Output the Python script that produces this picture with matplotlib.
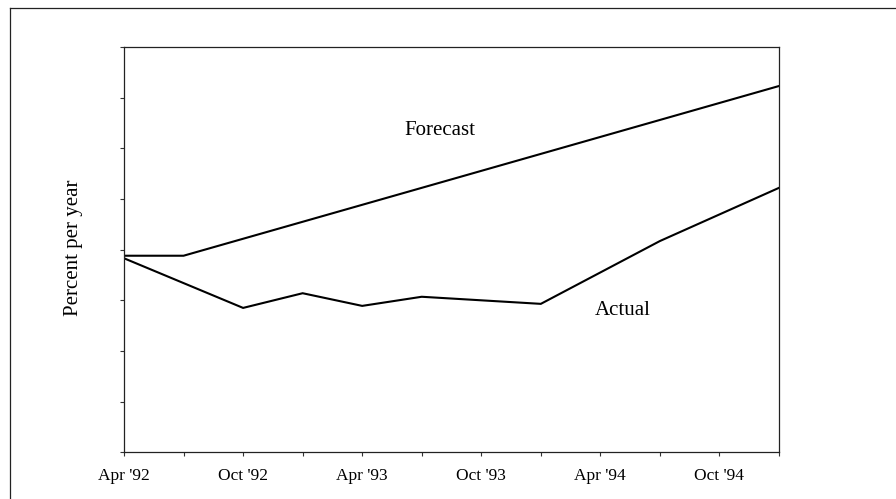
import matplotlib
matplotlib.use("Agg")
import matplotlib.pyplot as plt
from matplotlib.lines import Line2D
from matplotlib.ticker import FixedLocator, NullFormatter

plt.rcParams['font.family'] = ['Liberation Serif', 'DejaVu Serif']

# Quarter index: 0 = Apr '92, 1 = Jul '92, ... 11 = Jan '95
forecast_q = [0, 1, 11]
forecast_v = [3.88, 3.88, 7.23]

actual_q = [0, 2, 3, 4, 5, 7, 9, 11]
actual_v = [3.83, 2.85, 3.14, 2.89, 3.07, 2.93, 4.17, 5.22]

major_ticks = [0, 2, 4, 6, 8, 10]
tick_labels = ["Apr '92", "Oct '92", "Apr '93", "Oct '93", "Apr '94", "Oct '94"]
minor_ticks = [1, 3, 5, 7, 9, 11]
y_ticks = [0, 1, 2, 3, 4, 5, 6, 7, 8]

fig = plt.figure(figsize=(8.96, 4.99), dpi=100)
ax = fig.add_axes([124/896, 1-452.3/499, 655/896, 405.3/499])

ax.plot(forecast_q, forecast_v, color='black', lw=1.5, solid_joinstyle='miter')
ax.plot(actual_q, actual_v, color='black', lw=1.5, solid_joinstyle='miter')

ax.set_xlim(0, 11)
ax.set_ylim(0, 8)
ax.set_xticks(major_ticks)
ax.set_xticklabels(tick_labels, fontsize=12.5)
ax.xaxis.set_minor_locator(FixedLocator(minor_ticks))
ax.xaxis.set_minor_formatter(NullFormatter())
ax.set_yticks(y_ticks)
ax.set_yticklabels([])
ax.tick_params(axis='both', which='both', direction='out', length=3, width=0.8,
               color='#333333', pad=8)
ax.tick_params(axis='y', pad=2)
for s in ax.spines.values():
    s.set_linewidth(0.9)
    s.set_color('#222222')

ax.text(0.482, 0.795, 'Forecast', transform=ax.transAxes, ha='center', va='center', fontsize=15)
ax.text(0.762, 0.349, 'Actual', transform=ax.transAxes, ha='center', va='center', fontsize=15)

fig.text(73/896, 1-247.5/499, 'Percent per year', rotation=90, ha='center', va='center', fontsize=15)

# figure frame lines (top and left)
fig.add_artist(Line2D([9.5/896, 1], [1-7.5/499, 1-7.5/499], transform=fig.transFigure, color='#222222', lw=0.9))
fig.add_artist(Line2D([9.5/896, 9.5/896], [0, 1-7.5/499], transform=fig.transFigure, color='#222222', lw=0.9))

fig.savefig('out.png', dpi=100)
